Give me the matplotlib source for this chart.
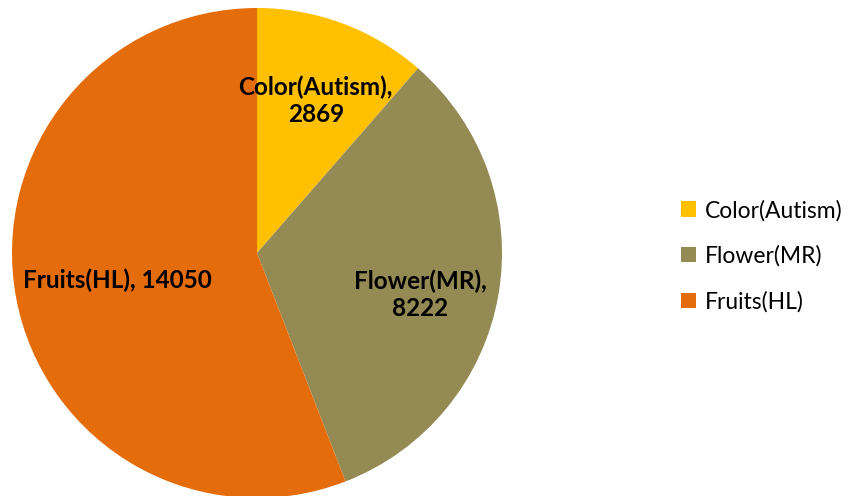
import matplotlib
matplotlib.use("Agg")
import matplotlib.pyplot as plt
from matplotlib.patches import Patch

categories = ["Color(Autism)", "Flower(MR)", "Fruits(HL)"]
values = [2869, 8222, 14050]
colors = ["#FFC000", "#948A54", "#E46C0A"]
label_texts = ["Color(Autism),\n2869", "Flower(MR),\n8222", "Fruits(HL), 14050"]
label_pos = [(0.24, 0.62), (0.665, -0.17), (-0.57, -0.11)]

plt.rcParams['font.family'] = ['Lato', 'DejaVu Sans']

fig = plt.figure(figsize=(8.5, 4.96), dpi=100)
ax = fig.add_axes([12/850, -2/496, 490/850, 490/496])
wedges, _ = ax.pie(values, colors=colors, startangle=90, counterclock=False,
                   wedgeprops=dict(linewidth=0))
ax.set_xlim(-1, 1)
ax.set_ylim(-1, 1)
ax.set_aspect("equal")

for txt, (x, y) in zip(label_texts, label_pos):
    ax.text(x, y, txt, ha="center", va="center", fontsize=17.5,
            fontweight="bold", color="black", linespacing=1.2)

handles = [Patch(facecolor=c, edgecolor="none") for c in colors]
fig.legend(handles, categories, loc="center left", bbox_to_anchor=(681/850, 1 - 256/496),
           frameon=False, fontsize=16.5, handlelength=0.65, handleheight=0.65,
           handletextpad=0.4, labelspacing=1.05, borderaxespad=0, borderpad=0)

fig.savefig("out.png", dpi=100)
